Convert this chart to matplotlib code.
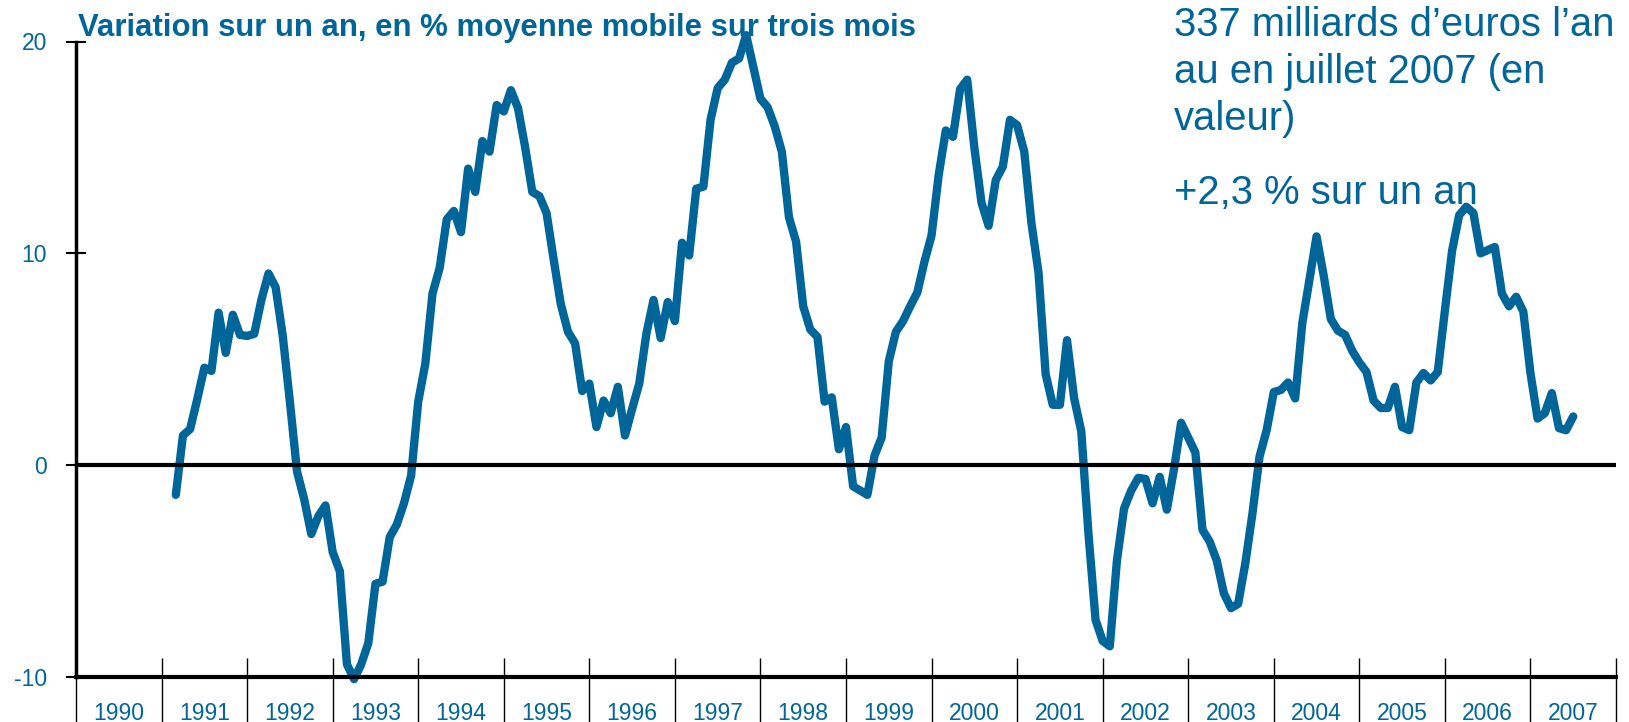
import numpy as np
import pandas as pd
import matplotlib
matplotlib.use("Agg")
import matplotlib.pyplot as plt

# ---------------------------------------Données---------------------------------------
# variation sur un an, en %, moyenne mobile sur trois mois (mars 1991 - juillet 2007)
mois = pd.date_range("1991-03-01", "2007-07-01", freq="MS")
variation = [
    -1.4, 1.4, 1.7, 3.1, 4.6, 4.45, 7.2, 5.3, 7.1, 6.15, 6.1, 6.2,
    7.8, 9.05, 8.4, 6.1, 3.0, -0.3, -1.6, -3.25, -2.4, -1.9, -4.1, -5.0,
    -9.4, -10.1, -9.4, -8.4, -5.6, -5.5, -3.4, -2.8, -1.8, -0.5, 3.0, 4.8,
    8.1, 9.3, 11.6, 12.0, 11.0, 14.0, 12.9, 15.3, 14.8, 17.0, 16.7, 17.7,
    16.85, 15.0, 12.9, 12.7, 11.9, 9.7, 7.6, 6.3, 5.75, 3.5, 3.85, 1.8,
    3.05, 2.45, 3.7, 1.4, 2.65, 3.85, 6.2, 7.8, 6.0, 7.7, 6.8, 10.5,
    9.9, 13.05, 13.15, 16.3, 17.8, 18.2, 19.0, 19.2, 20.3, 18.8, 17.3, 16.9,
    16.0, 14.8, 11.7, 10.55, 7.5, 6.4, 6.05, 3.0, 3.2, 0.75, 1.8, -1.0,
    -1.2, -1.4, 0.45, 1.3, 4.9, 6.3, 6.8, 7.5, 8.15, 9.6, 10.85, 13.7,
    15.8, 15.5, 17.75, 18.2, 15.0, 12.4, 11.3, 13.45, 14.1, 16.3, 16.05, 14.8,
    11.45, 9.1, 4.3, 2.85, 2.85, 5.9, 3.15, 1.6, -3.2, -7.3, -8.3, -8.55,
    -4.5, -2.05, -1.2, -0.6, -0.65, -1.8, -0.55, -2.1, -0.2, 2.0, 1.3, 0.6,
    -3.05, -3.6, -4.5, -6.05, -6.75, -6.55, -4.65, -2.3, 0.4, 1.65, 3.45, 3.55,
    3.9, 3.15, 6.7, 8.75, 10.8, 8.95, 6.9, 6.35, 6.15, 5.4, 4.85, 4.4,
    3.05, 2.7, 2.7, 3.7, 1.8, 1.65, 3.9, 4.35, 4.0, 4.4, 7.3, 10.1,
    11.8, 12.2, 11.9, 10.0, 10.15, 10.3, 8.1, 7.5, 7.95, 7.25, 4.35, 2.2,
    2.45, 3.4, 1.75, 1.65, 2.3,
]
annees = list(range(1990, 2008))
y_ticks = [-10, 0, 10, 20]

titre = "Variation sur un an, en % moyenne mobile sur trois mois"
note_1 = ["337 milliards d\u2019euros l\u2019an", "au en juillet 2007 (en", "valeur)"]
note_2 = "+2,3 % sur un an"

# ---------------------------------------Style---------------------------------------
bleu = "#00669a"
plt.rcParams["font.family"] = ["Liberation Sans", "DejaVu Sans"]

x = mois.year + (mois.month - 1) / 12

W, H = 1629, 722
fig = plt.figure(figsize=(W / 100, H / 100), dpi=100)
ax = fig.add_axes([76 / W, 1 - 677 / H, (1616 - 76) / W, (677 - 41.5) / H])

ax.plot(x, variation, color=bleu, lw=6, solid_joinstyle="round",
        solid_capstyle="round", clip_on=False, zorder=3)
ax.axhline(0, color="black", lw=3, zorder=4)

ax.set_xlim(1990, 2008)
ax.set_ylim(-10, 20)

for s in ["top", "right"]:
    ax.spines[s].set_visible(False)
ax.spines["left"].set_linewidth(2.5)
ax.spines["bottom"].set_linewidth(3)
ax.spines["bottom"].set_zorder(4)

# axe y
ax.set_yticks(y_ticks)
ax.set_yticklabels([str(v) for v in y_ticks])
ax.tick_params(axis="y", direction="inout", length=14, width=1.5,
               colors="black", labelcolor=bleu, labelsize=16.5, pad=14)

# axe x : libellés au centre de chaque année, traits aux limites
bornes = annees + [annees[-1] + 1]
centres = [a + 0.5 for a in annees]
ax.set_xticks(centres)
ax.set_xticklabels([str(a) for a in annees])
ax.set_xticks(bornes, minor=True)
ax.tick_params(axis="x", which="major", length=0, labelcolor=bleu,
               labelsize=16.5, pad=18)
ax.tick_params(axis="x", which="minor", direction="in", length=14, width=1,
               colors="black")

sec = ax.secondary_xaxis("bottom")
sec.set_xticks(bornes)
sec.set_xticklabels([])
sec.tick_params(axis="x", direction="out", length=34, width=1, colors="black")
sec.spines["bottom"].set_visible(False)

# ---------------------------------------Textes---------------------------------------
fig.text(78 / W, 1 - 36 / H, titre, color=bleu, fontsize=22.4, fontweight="bold",
         family=["Liberation Sans Narrow", "Liberation Sans"], va="baseline")
for i, ligne in enumerate(note_1):
    fig.text(1174 / W, 1 - (35.5 + 47.2 * i) / H, ligne, color=bleu,
             fontsize=28.8, va="baseline")
fig.text(1174 / W, 1 - 204 / H, note_2, color=bleu, fontsize=28.8, va="baseline")

fig.savefig("out.png", dpi=100)
